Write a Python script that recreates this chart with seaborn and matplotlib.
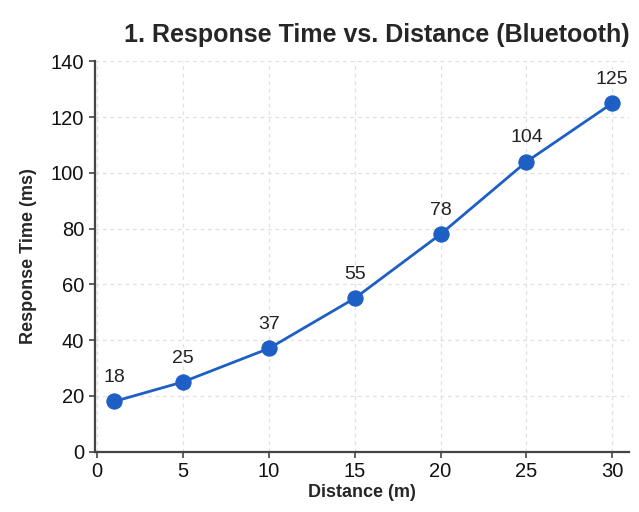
import matplotlib
matplotlib.use("Agg")
import matplotlib.pyplot as plt
import seaborn as sns
import pandas as pd

# Data
distance_m = [1, 5, 10, 15, 20, 25, 30]
response_ms = [18, 25, 37, 55, 78, 104, 125]

df = pd.DataFrame({"Distance (m)": distance_m, "Response Time (ms)": response_ms})

sns.set_style("ticks")
plt.rcParams['font.family'] = ['Liberation Sans', 'DejaVu Sans']

line_color = "#1d5fc4"

fig, ax = plt.subplots(figsize=(6.39, 5.12), dpi=100)
sns.lineplot(data=df, x="Distance (m)", y="Response Time (ms)", ax=ax,
             color=line_color, linewidth=2, marker="o", markersize=11,
             markeredgecolor=line_color, markerfacecolor=line_color)

# value labels above each point
for xv, yv in zip(distance_m, response_ms):
    ax.annotate(f"{yv}", (xv, yv), textcoords="offset points", xytext=(0, 11),
                ha="center", va="bottom", fontsize=14, color="#222222")

ax.set_xlim(-0.15, 31)
ax.set_ylim(0, 140)
ax.set_xticks([0, 5, 10, 15, 20, 25, 30])
ax.set_yticks([0, 20, 40, 60, 80, 100, 120, 140])
ax.grid(True, linestyle=(0, (3, 3)), color="#e0e0e0", linewidth=0.9)
ax.set_axisbelow(True)

sns.despine(ax=ax)
for side in ["left", "bottom"]:
    ax.spines[side].set_color("#444444")
    ax.spines[side].set_linewidth(1.6)
ax.tick_params(axis="both", labelsize=14.5, colors="#444444", labelcolor="#111111",
               length=4, width=1.2)

ax.set_title("1. Response Time vs. Distance (Bluetooth)", fontsize=18,
             fontweight="bold", loc="right", pad=14)
ax.set_xlabel("Distance (m)", fontsize=13, fontweight="bold", labelpad=2)
ax.set_ylabel("Response Time (ms)", fontsize=13, fontweight="bold", labelpad=10)

plt.subplots_adjust(left=0.148, right=0.985, top=0.88, bottom=0.118)
plt.savefig("out.png", dpi=100)
